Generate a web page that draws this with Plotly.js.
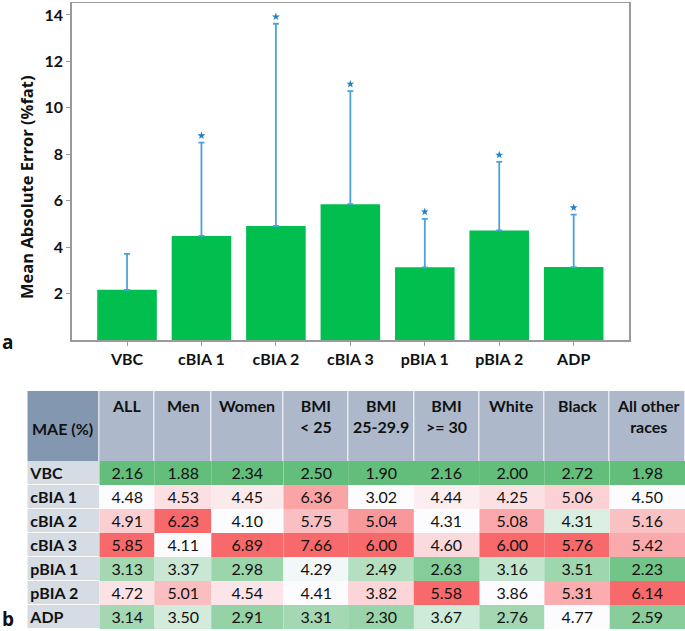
<!DOCTYPE html>
<html>
<head>
<meta charset="utf-8">
<script src="https://cdn.plot.ly/plotly-3.0.1.min.js"></script>
<style>
  html, body { margin: 0; padding: 0; background: #ffffff; }
  #chart { width: 685px; height: 631px; }
</style>
</head>
<body>
<div id="chart"></div>
<script>
// ---------- data ----------
const methods = ['VBC', 'cBIA 1', 'cBIA 2', 'cBIA 3', 'pBIA 1', 'pBIA 2', 'ADP'];
// panel a: mean absolute error (= "ALL" column) and upper error bar length
const barMAE = [2.16, 4.48, 4.91, 5.85, 3.13, 4.72, 3.14];
const barErrPlus = [1.55, 4.02, 8.71, 4.87, 2.09, 2.95, 2.26];
const significant = [false, true, true, true, true, true, true];
const yTicks = [2, 4, 6, 8, 10, 12, 14];

// panel b: MAE (%) table by subgroup
const cornerLabel = 'MAE (%)';
const groupLabels = ['ALL', 'Men', 'Women', 'BMI<br>< 25', 'BMI<br>25-29.9', 'BMI<br>>= 30', 'White', 'Black', 'All other<br>races'];
const maeALL      = [2.16, 4.48, 4.91, 5.85, 3.13, 4.72, 3.14];
const maeMen      = [1.88, 4.53, 6.23, 4.11, 3.37, 5.01, 3.50];
const maeWomen    = [2.34, 4.45, 4.10, 6.89, 2.98, 4.54, 2.91];
const maeBMIlt25  = [2.50, 6.36, 5.75, 7.66, 4.29, 4.41, 3.31];
const maeBMI25_30 = [1.90, 3.02, 5.04, 6.00, 2.49, 3.82, 2.30];
const maeBMIge30  = [2.16, 4.44, 4.31, 4.60, 2.63, 5.58, 3.67];
const maeWhite    = [2.00, 4.25, 5.08, 6.00, 3.16, 3.86, 2.76];
const maeBlack    = [2.72, 5.06, 4.31, 5.76, 3.51, 5.31, 4.77];
const maeOther    = [1.98, 4.50, 5.16, 5.42, 2.23, 6.14, 2.59];
const tableColumns = [maeALL, maeMen, maeWomen, maeBMIlt25, maeBMI25_30, maeBMIge30, maeWhite, maeBlack, maeOther];

// ---------- table geometry (styling, in pixels) ----------
const colWidths = [72.2, 54.9, 56.9, 72.2, 64.7, 65.6, 65.7, 64.9, 65.3, 75.7];
const headerH = 70, rowH = 24;
const colEdges = [0];
colWidths.forEach(w => colEdges.push(colEdges[colEdges.length - 1] + w));
const rowEdges = [headerH];
methods.forEach(() => rowEdges.push(rowEdges[rowEdges.length - 1] + rowH));
const rowCenters = methods.map((m, i) => (rowEdges[i] + rowEdges[i + 1]) / 2);

// ---------- colour scale (3-colour per column: min green, median white, max red) ----------
const GREEN = '#63BE7B', WHITE = '#FCFCFF', RED = '#F8696B';

const W = 685, H = 631;
const px = x => x / W;           // pixel -> paper x
const py = y => 1 - y / H;       // pixel -> paper y

const FONT = 'Lato, "Open Sans", sans-serif';
const tickFont = { family: FONT, size: 16, weight: 'bold', color: '#111111' };

// ---------- panel a traces ----------
const bars = {
  type: 'bar',
  x: methods,
  y: barMAE,
  marker: { color: '#00BF4F', line: { width: 0 } },
  error_y: {
    type: 'data', symmetric: false, array: barErrPlus, arrayminus: barMAE.map(() => 0),
    color: '#4DA0DA', thickness: 1.8, width: 3
  },
  hoverinfo: 'x+y', showlegend: false,
  xaxis: 'x', yaxis: 'y'
};

const starX = [], starY = [];
methods.forEach((m, i) => {
  if (significant[i]) { starX.push(m); starY.push(barMAE[i] + barErrPlus[i] + 0.3); }
});
const stars = {
  type: 'scatter', mode: 'markers',
  x: starX, y: starY,
  marker: { symbol: 'star', size: 6, color: '#1F7FC8' },
  hoverinfo: 'skip', showlegend: false,
  xaxis: 'x', yaxis: 'y'
};

// ---------- panel b traces ----------
const traces = [bars, stars];

// header band
traces.push({
  type: 'heatmap', xaxis: 'x2', yaxis: 'y2',
  x: colEdges, y: [0, headerH],
  z: [colWidths.map((w, j) => (j === 0 ? 0 : 1))],
  colorscale: [[0, '#8497B0'], [1, '#ADB9CA']], zmin: 0, zmax: 1,
  showscale: false, xgap: 1, hoverinfo: 'skip'
});
// row-label column
traces.push({
  type: 'heatmap', xaxis: 'x2', yaxis: 'y2',
  x: [colEdges[0], colEdges[1]], y: rowEdges,
  z: methods.map(() => [0]),
  colorscale: [[0, '#D6DCE4'], [1, '#D6DCE4']], zmin: 0, zmax: 1,
  showscale: false, ygap: 1, hoverinfo: 'skip'
});
// value columns, each with its own green-white-red scale
tableColumns.forEach((col, j) => {
  const s = col.slice().sort((a, b) => a - b);
  const lo = s[0], hi = s[s.length - 1], med = s[Math.floor(s.length / 2)];
  const t = (med - lo) / (hi - lo);
  traces.push({
    type: 'heatmap', xaxis: 'x2', yaxis: 'y2',
    x: [colEdges[j + 1], colEdges[j + 2]], y: rowEdges,
    z: col.map(v => [v]),
    colorscale: [[0, GREEN], [t, WHITE], [1, RED]], zmin: lo, zmax: hi,
    showscale: false,
    texttemplate: '%{z:.2f}',
    textfont: { family: FONT, size: 16, color: '#111111' },
    hoverinfo: 'skip'
  });
});

// header labels
const annotations = [
  { text: '<b>Mean Absolute Error (%fat)</b>', textangle: -90,
    xref: 'paper', yref: 'paper', x: px(26), y: py(187), xanchor: 'center', yanchor: 'middle',
    showarrow: false, font: { family: '"Open Sans", sans-serif', size: 16.5, color: '#111111' } },
  { text: '<b>a</b>', xref: 'paper', yref: 'paper', x: px(0), y: py(342),
    xanchor: 'left', yanchor: 'middle', showarrow: false,
    font: { family: '"Open Sans", sans-serif', size: 19, color: '#111111' } },
  { text: '<b>b</b>', xref: 'paper', yref: 'paper', x: px(0), y: py(619),
    xanchor: 'left', yanchor: 'middle', showarrow: false,
    font: { family: '"Open Sans", sans-serif', size: 19, color: '#111111' } },
  { text: '<b>' + cornerLabel + '</b>', xref: 'x2', yref: 'y2', x: colEdges[0] + 3, y: 37,
    xanchor: 'left', yanchor: 'middle', showarrow: false,
    font: { family: FONT, size: 16, color: '#111111' } }
];
groupLabels.forEach((g, j) => {
  annotations.push({
    text: '<b>' + g + '</b>', xref: 'x2', yref: 'y2',
    x: (colEdges[j + 1] + colEdges[j + 2]) / 2, y: 3,
    xanchor: 'center', yanchor: 'top', align: 'center', showarrow: false,
    font: { family: FONT, size: 16, color: '#111111' }
  });
});

// ---------- layout ----------
const layout = {
  width: W, height: H,
  margin: { l: 0, r: 0, t: 0, b: 0, pad: 0 },
  paper_bgcolor: '#FFFFFF',
  plot_bgcolor: '#FFFFFF',
  showlegend: false,
  bargap: 0.2,
  xaxis: {
    domain: [px(71.7), px(629)], anchor: 'y',
    type: 'category',
    range: [-0.743, methods.length - 1 + 0.743],
    showgrid: false, zeroline: false,
    showline: true, mirror: true, linecolor: '#9A9A9A', linewidth: 1.5,
    ticks: 'outside', ticklen: 4, tickcolor: '#9A9A9A', tickwidth: 1,
    tickfont: tickFont, fixedrange: true
  },
  yaxis: {
    domain: [py(340), py(3.3)], anchor: 'x',
    range: [0, 14.5],
    tickvals: yTicks,
    showgrid: false, zeroline: false,
    showline: true, mirror: true, linecolor: '#9A9A9A', linewidth: 1.5,
    ticks: 'outside', ticklen: 4, tickcolor: '#9A9A9A', tickwidth: 1,
    tickfont: tickFont, fixedrange: true
  },
  xaxis2: {
    domain: [px(27.3), 1], anchor: 'y2',
    range: [0, W - 27.3],
    showgrid: false, zeroline: false, showline: false, showticklabels: false, ticks: '',
    fixedrange: true
  },
  yaxis2: {
    domain: [0, py(391)], anchor: 'x2',
    range: [H - 391, 0],
    tickvals: rowCenters, ticktext: methods,
    ticklabelposition: 'inside', ticks: '',
    tickfont: tickFont,
    showgrid: false, zeroline: false, showline: false,
    fixedrange: true
  },
  annotations: annotations
};

Plotly.newPlot('chart', traces, layout, { displayModeBar: false, staticPlot: true });
</script>
</body>
</html>
